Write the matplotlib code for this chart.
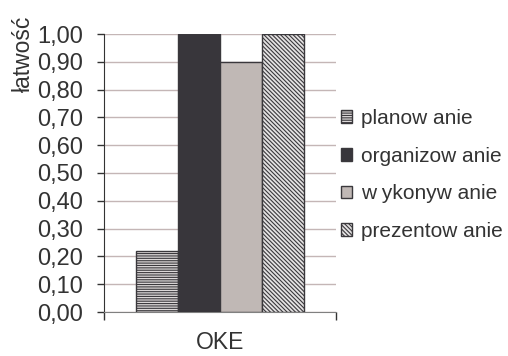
import numpy as np
import matplotlib.pyplot as plt

plt.rcParams['font.family'] = ['Liberation Sans', 'DejaVu Sans']
plt.rcParams['hatch.linewidth'] = 0.8

category = 'OKE'
series = ['planow anie', 'organizow anie', 'w ykonyw anie', 'prezentow anie']
values = [0.22, 1.00, 0.90, 1.00]
y_ticks = [0.1 * i for i in range(0, 11)]

faces = ['#dcd8d8', '#38363b', '#c0b8b5', '#e4e2e2']
hatches = ['-------', None, None, '\\\\\\\\\\\\\\\\']
edge = '#3a383c'
text_col = '#333333'

fig = plt.figure(figsize=(5.08, 3.56), dpi=100)
ax = fig.add_axes([104 / 508, 1 - 312 / 356, 232 / 508, 278 / 356])

width = 0.181
offsets = (np.arange(len(series)) - 1.5) * width
handles = []
for i, name in enumerate(series):
    b = ax.bar(offsets[i], values[i], width, color=faces[i], edgecolor=edge,
               hatch=hatches[i], linewidth=1.0, label=name, zorder=3)
    handles.append(b)

ax.set_xlim(-0.5, 0.5)
ax.set_ylim(0, 1.0)
ax.set_yticks(y_ticks)
ax.set_yticklabels([f'{t:.2f}'.replace('.', ',') for t in y_ticks],
                   fontsize=17, color=text_col)
ax.yaxis.grid(True, color='#c4b6b6', linewidth=1.0, zorder=0)

ax.set_xticks([-0.5, 0.5])
ax.set_xticklabels(['', ''])
ax.set_xticks([0], minor=True)
ax.set_xticklabels([category], minor=True, fontsize=16.5, color=text_col)
ax.tick_params(axis='x', which='major', length=6, width=1, color='#333333')
ax.tick_params(axis='x', which='minor', length=0, pad=14)
ax.tick_params(axis='y', length=5, width=1, color='#333333', pad=10)

for s in ['top', 'right']:
    ax.spines[s].set_visible(False)
ax.spines['left'].set_color('#333333')
ax.spines['bottom'].set_color('#808080')

fig.text(23 / 508, 1 - 54 / 356, 'łatwość', rotation=90, ha='center',
         va='center', fontsize=16.5, color=text_col)

fig.legend(handles=handles, labels=series, loc='center left',
           bbox_to_anchor=(341 / 508, 1 - 175 / 356), bbox_transform=fig.transFigure,
           frameon=False, fontsize=15, handlelength=0.55, handleheight=0.55,
           handletextpad=0.4, labelspacing=0.9, borderpad=0, borderaxespad=0,
           labelcolor=text_col)

fig.savefig('out.png', dpi=100)
